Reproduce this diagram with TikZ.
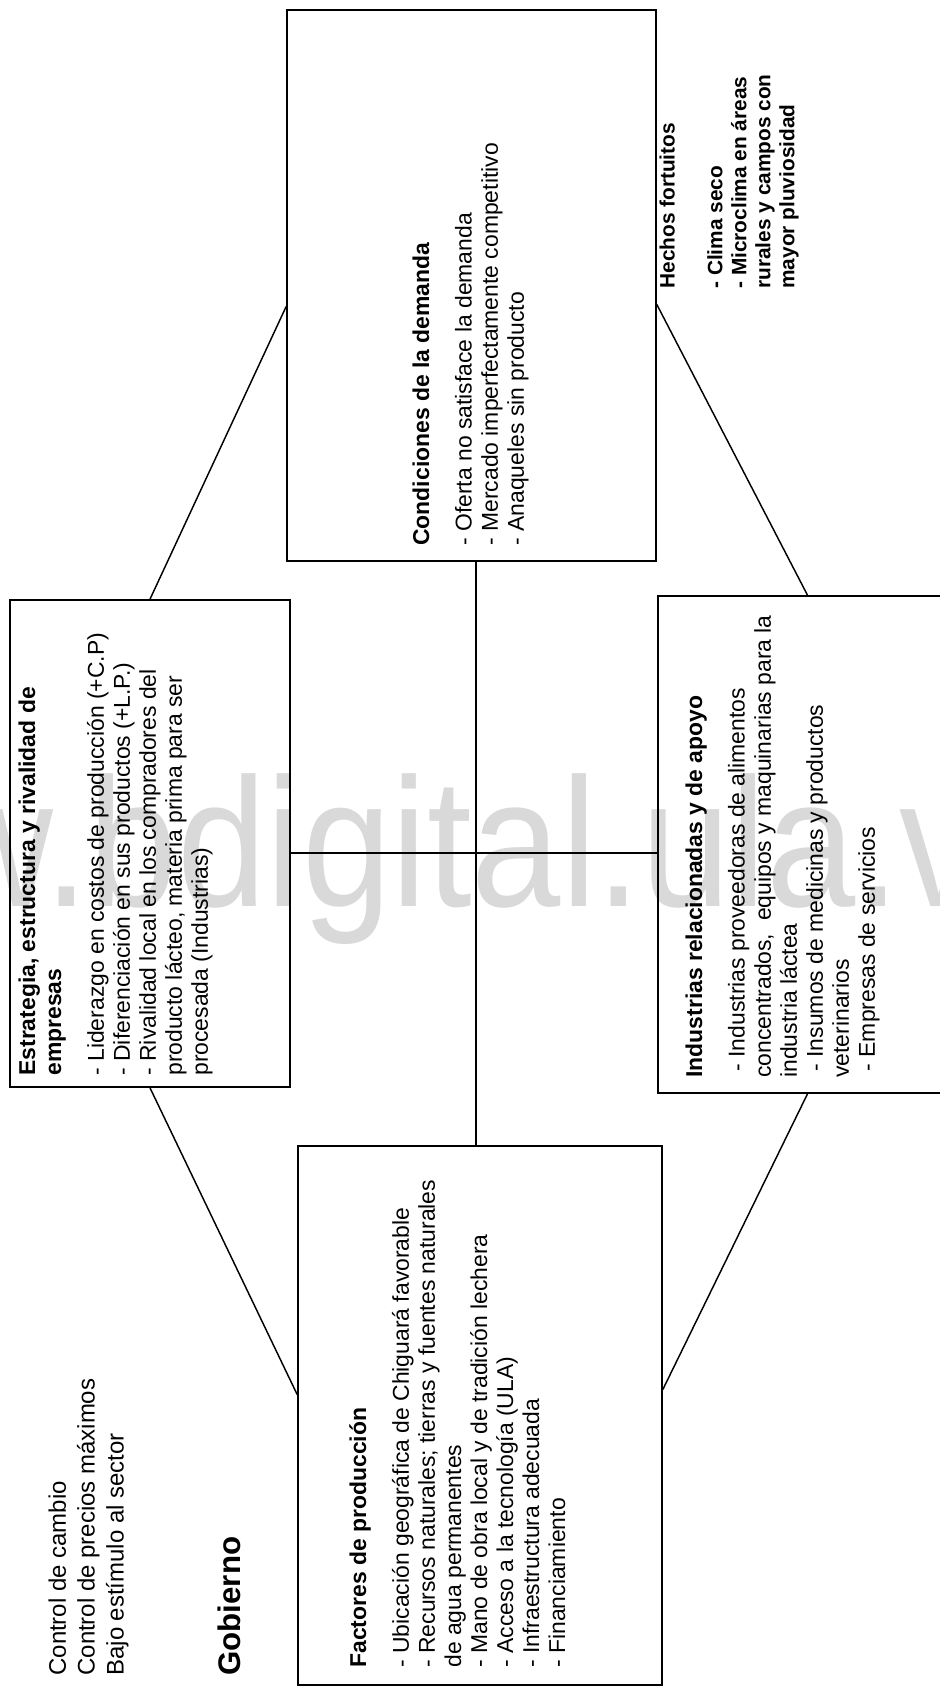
\documentclass[tikz,border=0pt]{standalone}
\usepackage{fontspec}
\setmainfont{Liberation Sans}
\usetikzlibrary{calc,fit}

\begin{document}
\begin{tikzpicture}[x=0.48pt, y=-0.48pt,
		box/.style={draw, line width=0.8pt, inner sep=0pt},
		link/.style={line width=0.7pt},
		boxtext/.style={rotate=90, anchor=north west, align=left, inner sep=0pt, font=\fontsize{11}{12.5}\selectfont}]
	\def\Skip{8pt}

	\useasboundingbox (0,0) rectangle (940,1688);
	\clip (0,0) rectangle (940,1688);

	% marca de agua
	\node (marca) [anchor=base west, inner sep=0pt, xscale=0.875, text=black!15, font=\fontsize{88}{88}\selectfont] at (-295,906) {www.bdigital.ula.ve};

	% cajas
	\node (cond) [box, fit={(287,10) (656,561)}] {};
	\node (estr) [box, fit={(10,600) (290,1087)}] {};
	\node (indu) [box, fit={(658,596) (957,1093)}] {};
	\node (fact) [box, fit={(298,1146) (662,1685)}] {};

	% textos
	\node (tcond) [boxtext] at (412,546) {\textbf{Condiciones de la demanda}\\[\Skip]
		- Oferta no satisface la demanda\\
		- Mercado imperfectamente competitivo\\
		- Anaqueles sin producto};

	\node (testr) [boxtext] at (18,1076) {\textbf{Estrategia, estructura y rivalidad de}\\
		\textbf{empresas}\\[\Skip]
		- Liderazgo en costos de producción (+C.P)\\
		- Diferenciación en sus productos (+L.P.)\\
		- Rivalidad local en los compradores del\\
		producto lácteo, materia prima para ser\\
		procesada (Industrias)};

	\node (tindu) [boxtext] at (685,1078) {\textbf{Industrias relacionadas y de apoyo}\\[\Skip]
		\hspace{3pt}- Industrias proveedoras de alimentos\\
		concentrados,\ \ equipos y maquinarias para la\\
		industria láctea\\
		\hspace{3pt}- Insumos de medicinas y productos\\
		veterinarios\\
		\hspace{3pt}- Empresas de servicios};

	\node (tfact) [boxtext] at (349,1668) {\textbf{Factores de producción}\\[\Skip]
		- Ubicación geográfica de Chiguará favorable\\
		- Recursos naturales; tierras y fuentes naturales\\
		de agua permanentes\\
		- Mano de obra local y de tradición lechera\\
		- Acceso a la tecnología (ULA)\\
		- Infraestructura adecuada\\
		- Financiamiento};

	\node (tgob) [boxtext, font=\fontsize{11.5}{13.9}\selectfont] at (48,1676) {Control de cambio\\
		Control de precios máximos\\
		Bajo estímulo al sector};
	\node (gob) [boxtext, font=\fontsize{15}{16}\selectfont\bfseries] at (217,1676) {Gobierno};

	\node (hech) [boxtext, font=\fontsize{10}{11.5}\selectfont\bfseries] at (659,289) {Hechos fortuitos\\[11.5pt]
		- Clima seco\\
		- Microclima en áreas\\
		rurales y campos con\\
		mayor pluviosidad};

	% diamante
	\coordinate (mid) at (476,853);
	\draw[link] (cond.south -| mid) -- (fact.north -| mid);
	\draw[link] (estr.east |- mid) -- (indu.west |- mid);
	\draw[link] (estr.north) -- ($(cond.west)+(0,21)$);
	\draw[link] ($(cond.east)+(0,19)$) -- (indu.north);
	\draw[link] (indu.south) -- ($(fact.east)+(0,-26)$);
	\draw[link] ($(fact.west)+(0,-21)$) -- (estr.south);
\end{tikzpicture}
\end{document}
